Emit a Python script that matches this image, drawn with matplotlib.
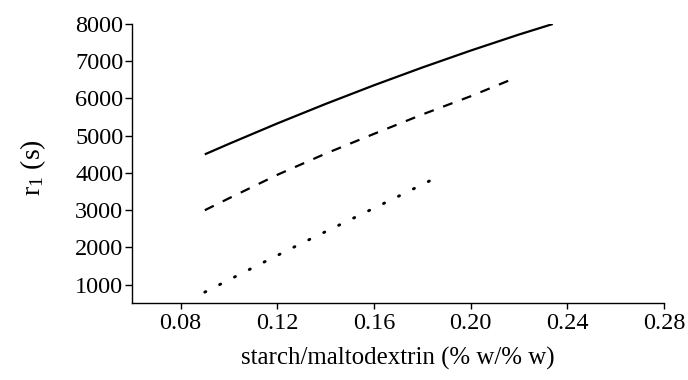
import matplotlib
matplotlib.use("Agg")
import matplotlib.pyplot as plt

plt.rcParams['font.family'] = ['Liberation Serif', 'DejaVu Serif']
plt.rcParams['mathtext.fontset'] = 'custom'
plt.rcParams['mathtext.rm'] = 'Liberation Serif'
plt.rcParams['mathtext.it'] = 'Liberation Serif'

# Data
x_solid = [0.09, 0.10, 0.12, 0.14, 0.16, 0.18, 0.20, 0.22, 0.234]
y_solid = [4500, 4782, 5330, 5854, 6355, 6832, 7286, 7717, 8000]

x_dashed = [0.09, 0.10, 0.12, 0.14, 0.16, 0.18, 0.20, 0.218]
y_dashed = [3000, 3320, 3950, 4520, 5050, 5570, 6060, 6540]

x_dotted = [0.09, 0.11, 0.13, 0.15, 0.17, 0.185]
y_dotted = [800, 1460, 2110, 2740, 3370, 3850]

x_ticks = [0.08, 0.12, 0.16, 0.20, 0.24, 0.28]
x_ticklabels = ["0.08", "0.12", "0.16", "0.20", "0.24", "0.28"]
y_ticks = [1000, 2000, 3000, 4000, 5000, 6000, 7000, 8000]

fig = plt.figure(figsize=(6.88, 3.80), dpi=100)
ax = fig.add_axes([0.1923, 0.2018, 0.965 - 0.1923, 0.9368 - 0.2018])

ax.plot(x_solid, y_solid, color='black', lw=1.6, solid_capstyle='butt')
ax.plot(x_dashed, y_dashed, color='black', lw=1.6, linestyle=(0, (4.5, 4.5)),
        dash_capstyle='butt')
ax.plot(x_dotted, y_dotted, color='black', lw=2.1, linestyle=(0, (0.4, 5.3)),
        dash_capstyle='round')

ax.set_xlim(0.06, 0.28)
ax.set_ylim(500, 8000)
ax.set_xticks(x_ticks)
ax.set_xticklabels(x_ticklabels)
ax.set_yticks(y_ticks)

for s in ['top', 'right']:
    ax.spines[s].set_visible(False)
for s in ['left', 'bottom']:
    ax.spines[s].set_linewidth(1.0)

ax.tick_params(axis='y', direction='out', length=5, width=1.0, labelsize=17.5, pad=1.5)
ax.tick_params(axis='x', direction='out', length=4, width=1.0, labelsize=17.5, pad=3)
ax.set_xlabel("starch/maltodextrin (% w/% w)", fontsize=17.9, labelpad=9)
ax.set_ylabel(r"r$_{1}$ (s)", fontsize=20)
ax.yaxis.set_label_coords(-0.158, 0.486)

fig.savefig("out.png", dpi=100)
